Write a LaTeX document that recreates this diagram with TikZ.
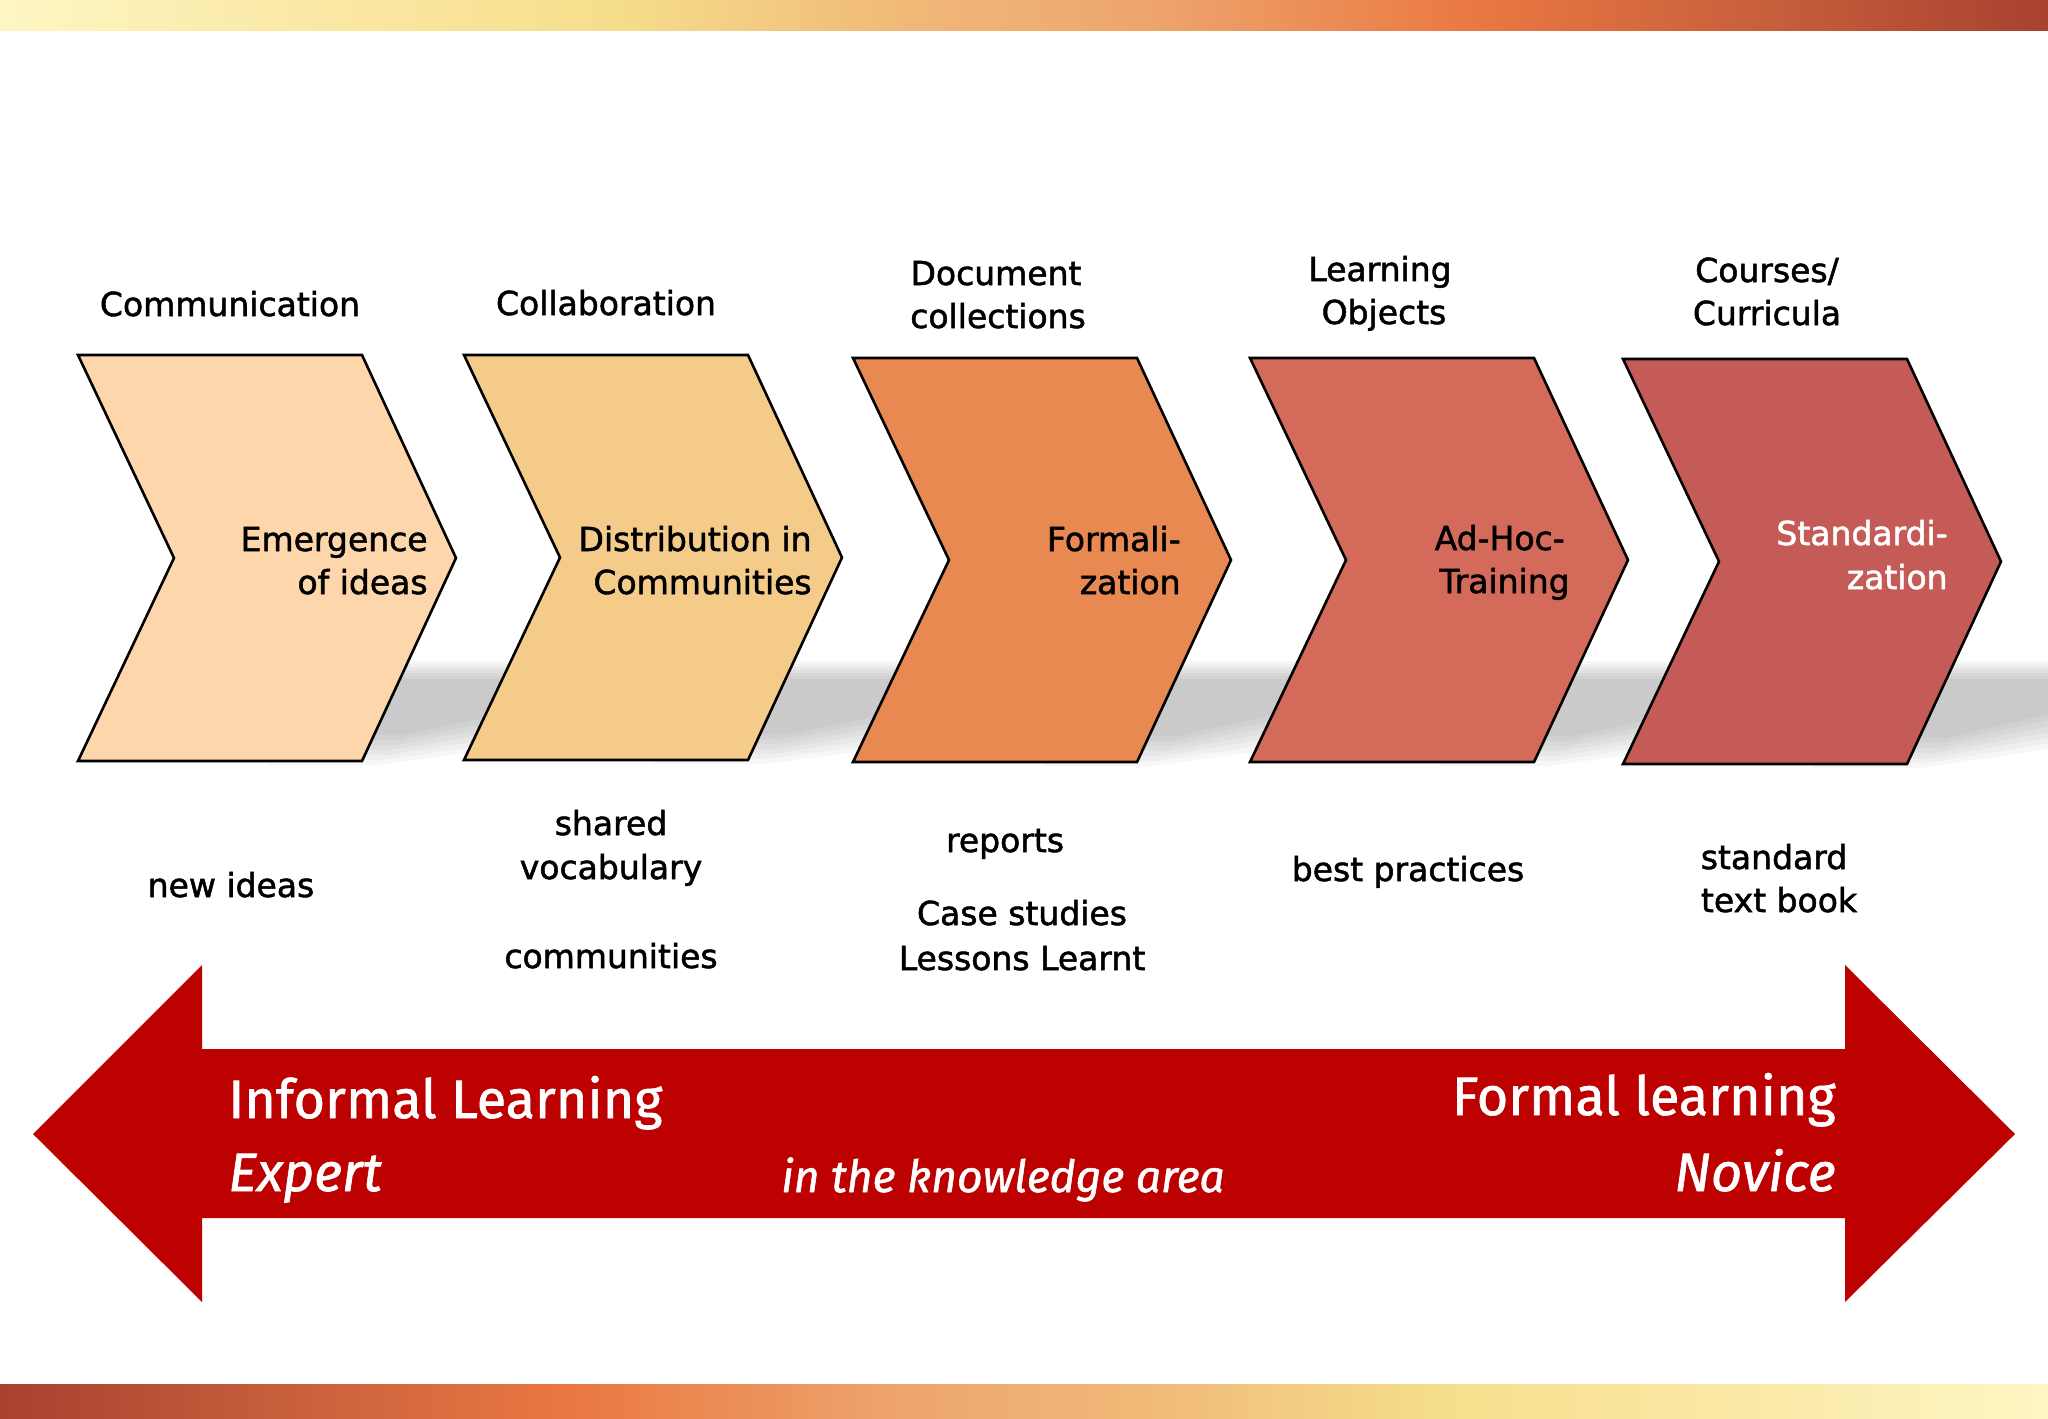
\documentclass[tikz,border=0pt]{standalone}
\usepackage{fontspec}
\setmainfont{DejaVu Sans}
\newfontfamily\lblfam{DejaVu Sans}[FakeBold=1.6]
\newfontfamily\arrowfont{Fira Sans}[FakeBold=1.2]
\newcommand\lblfont{\lblfam\fontsize{16.5pt}{20pt}\selectfont}
\newcommand\bigfont{\arrowfont\fontsize{27pt}{33pt}\selectfont}
\newcommand\midfont{\arrowfont\itshape\fontsize{22.2pt}{27pt}\selectfont}

\definecolor{chA}{RGB}{253,214,172}
\definecolor{chB}{RGB}{244,203,137}
\definecolor{chC}{RGB}{232,137,82}
\definecolor{chD}{RGB}{212,106,90}
\definecolor{chE}{RGB}{197,91,86}
\definecolor{bigred}{RGB}{189,0,0}

\definecolor{barA}{RGB}{253,246,195}
\definecolor{barB}{RGB}{250,230,160}
\definecolor{barC}{RGB}{245,222,140}
\definecolor{barD}{RGB}{240,185,120}
\definecolor{barE}{RGB}{238,165,110}
\definecolor{barF}{RGB}{234,120,66}
\definecolor{barG}{RGB}{200,95,60}
\definecolor{barH}{RGB}{168,65,48}

\pgfdeclarehorizontalshading{topbar}{100bp}{color(0bp)=(barA); color(25bp)=(barA); color(34bp)=(barB); color(40bp)=(barC); color(47bp)=(barD); color(53bp)=(barE); color(61bp)=(barF); color(68bp)=(barG); color(75bp)=(barH); color(100bp)=(barH)}
\pgfdeclarehorizontalshading{botbar}{100bp}{color(0bp)=(barH); color(25bp)=(barH); color(32bp)=(barG); color(39bp)=(barF); color(47bp)=(barE); color(53bp)=(barD); color(60bp)=(barC); color(66bp)=(barB); color(75bp)=(barA); color(100bp)=(barA)}

\newcommand\mychev[4]{%
  \draw[chevline, fill=#4] (#1,#2) -- ({#1+284},#2) -- ({#1+378},{(#2+#3)/2})
    -- ({#1+284},#3) -- (#1,#3) -- ({#1+96},{(#2+#3)/2}) -- cycle;}
% soft shadow: stacked translucent layers
\newcommand\myshadow[2]{%
  \foreach \k in {0,...,6}{%
    \fill[black, opacity=0.032]
      ({#1+190},{661+3*\k}) -- ({#1+470-6*\k},{661+3*\k}) -- ({#1+470-6*\k},{742-5*\k})
      -- ({#1+300+4*\k},{#2+4-5*\k}) -- ({#1+190},{#2+4-5*\k}) -- cycle;}}

\begin{document}
\begin{tikzpicture}[x=0.5pt,y=-0.5pt,
  chevline/.style={draw=black, line width=1.3pt, line join=miter},
  lbl/.style={font=\lblfont, inner sep=0pt, text=black},
  big/.style={font=\bigfont, inner sep=0pt, text=white},
]
\useasboundingbox (0,0) rectangle (2048,1418);
\fill[white] (0,0) rectangle (2048,1418);
\shade[shading=topbar] (0,0) rectangle (2048,31);
\shade[shading=botbar] (0,1384) rectangle (2048,1418);

% shadows
\myshadow{78}{761}
\myshadow{464}{760}
\myshadow{853}{762}
\myshadow{1250}{762}
\myshadow{1623}{764}

% chevrons
\mychev{78}{355}{761}{chA}
\mychev{464}{355}{760}{chB}
\mychev{853}{358}{762}{chC}
\mychev{1250}{358}{762}{chD}
\mychev{1623}{359}{764}{chE}

% top labels
\node[lbl, anchor=base] (comm) at (230,316) {Communication};
\node[lbl, anchor=base] (coll) at (606,315) {Collaboration};
\node[lbl, anchor=base] (doc1) at (996,285) {Document};
\node[lbl, anchor=base] (doc2) at (998,328) {collections};
\node[lbl, anchor=base] (lo1) at (1380,281) {Learning};
\node[lbl, anchor=base] (lo2) at (1384,324) {Objects};
\node[lbl, anchor=base] (cc1) at (1767,282) {Courses/};
\node[lbl, anchor=base] (cc2) at (1767,325) {Curricula};

% chevron labels
\node[lbl, anchor=base east] (em1) at (428,551) {Emergence};
\node[lbl, anchor=base east] (em2) at (428,594) {of ideas};
\node[lbl, anchor=base east] (di1) at (812,551) {Distribution in};
\node[lbl, anchor=base east] (di2) at (812,594) {Communities};
\node[lbl, anchor=base east] (fo1) at (1181,551) {Formali-};
\node[lbl, anchor=base east] (fo2) at (1181,594) {zation};
\node[lbl, anchor=base east] (ad1) at (1565,550) {Ad-Hoc-};
\node[lbl, anchor=base east] (ad2) at (1570,593) {Training};
\node[lbl, anchor=base east, text=white] (st1) at (1948,545) {Standardi-};
\node[lbl, anchor=base east, text=white] (st2) at (1948,589) {zation};

% bottom labels
\node[lbl, anchor=base] (ni) at (231,897) {new ideas};
\node[lbl, anchor=base] (sv1) at (611,835) {shared};
\node[lbl, anchor=base] (sv2) at (611,879) {vocabulary};
\node[lbl, anchor=base] (cm) at (611,968) {communities};
\node[lbl, anchor=base] (rp) at (1005,852) {reports};
\node[lbl, anchor=base] (cs1) at (1022,925) {Case studies};
\node[lbl, anchor=base] (cs2) at (1022,970) {Lessons Learnt};
\node[lbl, anchor=base] (bp) at (1408,881) {best practices};
\node[lbl, anchor=base] (tb1) at (1774,869) {standard};
\node[lbl, anchor=base] (tb2) at (1779,912) {text book};

% big double arrow
\fill[bigred] (33,1134) -- (202,965) -- (202,1049) -- (1845,1049) -- (1845,965)
  -- (2015,1134) -- (1845,1302) -- (1845,1218) -- (202,1218) -- (202,1302) -- cycle;

\node[big, anchor=base west] (inf) at (228,1118) {Informal Learning};
\node[big, anchor=base west] (exp) at (228,1191) {\itshape Expert};
\node[inner sep=0pt, text=white, font=\midfont, anchor=base west] (ka) at (781,1192) {in the knowledge area};
\node[big, anchor=base east] (fl) at (1836,1115) {Formal learning};
\node[big, anchor=base east] (nov) at (1836,1191) {\itshape Novice};
\end{tikzpicture}
\end{document}
